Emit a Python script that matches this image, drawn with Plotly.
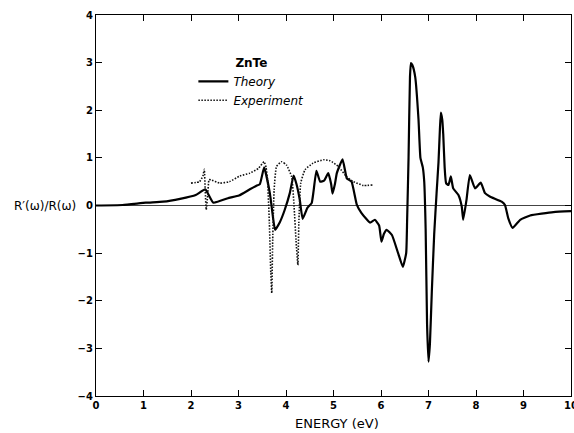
import plotly.graph_objects as go

# Theory curve (solid)
theory_E = [0.0, 0.56, 1.05, 1.41, 1.77, 2.10, 2.30, 2.47, 2.80, 3.01, 3.24, 3.37, 3.45, 3.54,
            3.66, 3.72, 3.77, 3.87, 3.97, 4.08, 4.16, 4.22, 4.29, 4.35, 4.45, 4.54, 4.58, 4.64,
            4.72, 4.80, 4.89, 4.95, 4.98, 5.03, 5.07, 5.19, 5.24, 5.28, 5.38, 5.49, 5.59, 5.77,
            5.87, 5.96, 6.01, 6.06, 6.12, 6.23, 6.36, 6.46, 6.53, 6.55, 6.58, 6.61, 6.63, 6.66,
            6.72, 6.79, 6.83, 6.88, 6.91, 6.94, 6.97, 7.00, 7.03, 7.07, 7.12, 7.17, 7.21, 7.24,
            7.26, 7.29, 7.31, 7.34, 7.37, 7.42, 7.47, 7.52, 7.63, 7.70, 7.73, 7.80, 7.87, 7.98,
            8.10, 8.19, 8.29, 8.54, 8.61, 8.68, 8.77, 8.93, 9.14, 9.63, 10.0]
theory_R = [0.00, 0.01, 0.06, 0.08, 0.14, 0.22, 0.34, 0.06, 0.16, 0.21, 0.34, 0.41, 0.45, 0.80,
            0.26, -0.20, -0.51, -0.35, -0.10, 0.26, 0.63, 0.45, 0.12, -0.28, -0.05, 0.05, 0.30, 0.73,
            0.50, 0.52, 0.68, 0.45, 0.25, 0.45, 0.68, 0.97, 0.75, 0.57, 0.50, 0.02, -0.16, -0.36,
            -0.30, -0.42, -0.76, -0.60, -0.51, -0.62, -1.00, -1.29, -1.00, -0.30, 1.00, 2.70, 2.99, 2.95,
            2.70, 1.80, 1.00, 0.80, 0.50, -0.50, -2.50, -3.28, -2.90, -1.80, -0.60, 0.26, 0.90, 1.60,
            1.95, 1.80, 1.50, 0.80, 0.47, 0.43, 0.61, 0.36, 0.22, -0.02, -0.30, 0.12, 0.64, 0.36,
            0.48, 0.26, 0.19, 0.08, 0.01, -0.27, -0.47, -0.30, -0.21, -0.14, -0.12]

# Experiment curve (dotted)
exp_E = [2.00, 2.18, 2.25, 2.28, 2.30, 2.32, 2.35, 2.38, 2.42, 2.60, 2.81, 3.03, 3.24, 3.42,
         3.54, 3.58, 3.61, 3.65, 3.68, 3.70, 3.72, 3.75, 3.80, 3.91, 4.01, 4.12, 4.17, 4.21,
         4.25, 4.27, 4.31, 4.40, 4.57, 4.79, 4.93, 5.10, 5.28, 5.42, 5.63, 5.82]
exp_R = [0.47, 0.50, 0.62, 0.76, 0.30, -0.09, 0.20, 0.54, 0.54, 0.47, 0.50, 0.62, 0.68, 0.78,
         0.92, 0.80, 0.55, -0.37, -1.42, -1.84, -0.72, 0.33, 0.82, 0.92, 0.85, 0.60, -0.02, -0.72,
         -1.25, -0.37, 0.47, 0.75, 0.89, 0.96, 0.94, 0.82, 0.60, 0.50, 0.42, 0.43]

x_ticks = [0, 1, 2, 3, 4, 5, 6, 7, 8, 9, 10]
y_ticks = [4, 3, 2, 1, 0, -1, -2, -3, -4]

FONT = "DejaVu Sans"

fig = go.Figure()
fig.add_trace(go.Scatter(x=theory_E, y=theory_R, mode="lines", name="Theory",
                         line=dict(color="black", width=2.2, shape="spline", smoothing=0.4)))
fig.add_trace(go.Scatter(x=exp_E, y=exp_R, mode="lines", name="Experiment",
                         line=dict(color="#111111", width=1.6, dash="1.5px,1.5px",
                                   shape="spline", smoothing=0.4)))

fig.update_layout(
    width=574, height=433,
    margin=dict(l=96, r=3, t=15, b=37),
    paper_bgcolor="white", plot_bgcolor="white",
    font=dict(family=FONT, color="black"),
    showlegend=True,
    legend=dict(x=0.205, y=0.905, xanchor="left", yanchor="top",
                bgcolor="rgba(0,0,0,0)", itemwidth=30, tracegroupgap=0,
                font=dict(family=FONT, size=12, style="italic"),
                title=dict(text="<b>ZnTe</b>", side="top center",
                           font=dict(family=FONT, size=12, style="normal"))),
    xaxis=dict(range=[0, 10], tickvals=x_ticks, ticktext=[str(v) for v in x_ticks],
               ticks="inside", ticklen=6, tickwidth=1.2, tickcolor="black",
               showline=True, linecolor="black", linewidth=1.2, mirror="ticks",
               showgrid=False, zeroline=False, ticklabeloverflow="allow", automargin=False,
               tickfont=dict(family=FONT, size=10, weight="bold")),
    yaxis=dict(range=[-4, 4], tickvals=y_ticks,
               ticktext=[("\u2212" + str(-v)) if v < 0 else str(v) for v in y_ticks],
               ticks="inside", ticklen=6, tickwidth=1.2, tickcolor="black",
               showline=True, linecolor="black", linewidth=1.2, mirror="ticks",
               showgrid=False, zeroline=True, zerolinecolor="#444444", zerolinewidth=1,
               automargin=False,
               tickfont=dict(family=FONT, size=10, weight="bold")),
)

fig.add_annotation(text="R\u2032(\u03c9)/R(\u03c9)", xref="paper", yref="y",
                   x=-0.108, y=0, xanchor="center", yanchor="middle", showarrow=False,
                   font=dict(family=FONT, size=12))
fig.add_annotation(text="ENERGY (eV)", xref="paper", yref="paper",
                   x=0.508, y=-0.071, xanchor="center", yanchor="middle", showarrow=False,
                   font=dict(family=FONT, size=13))

fig.write_html("out.html")
